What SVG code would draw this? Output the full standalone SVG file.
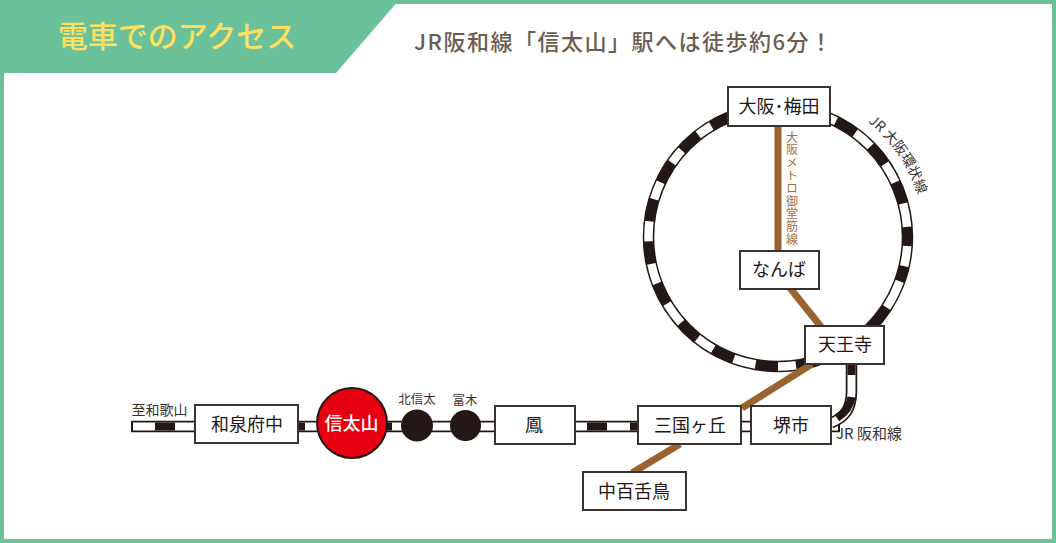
<svg xmlns="http://www.w3.org/2000/svg" width="1056" height="543" viewBox="0 0 1056 543">
<style>
text{font-family:"Noto Sans CJK JP","Noto Sans",sans-serif;text-anchor:middle;fill:#231815}
.box{fill:#fff;stroke:#3a3230;stroke-width:2}
.lbl{font-size:18px}
.sm{font-size:12.500px;fill:#3a3230}
.v{font-size:12px;fill:#a5703a;writing-mode:vertical-rl;text-anchor:start;letter-spacing:0.800px}
.brown{stroke:#9a632f;stroke-width:7;fill:none}
.tb{stroke:#231815;fill:none}
.tw{stroke:#fff;fill:none}
</style>
<defs><path id="arc" d="M867.900 122A146 146 0 0 1 922.600 216.700"/></defs>
<rect x="2" y="2" width="1052" height="539" fill="#fff" stroke="#6bc29a" stroke-width="4"/>
<path d="M0 0H399L336 73H0Z" fill="#6bc29a"/>
<text x="177" y="47" font-size="30" font-weight="500" style="fill:#ffdf5f">電車でのアクセス</text>
<text x="623" y="50" font-size="22" font-weight="500" textLength="418" style="fill:#6b5d4f">JR阪和線「信太山」駅へは徒歩約6分！</text>
<g id="connectors">
<circle cx="778" cy="237" r="129.500" class="tb" stroke-width="11.500"/>
<circle cx="778" cy="237" r="129.500" class="tw" stroke-width="8.500" pathLength="360" transform="rotate(-90 778 237)" stroke-dasharray="26.600 10 9 10 9.400 10 10.500 8.500 9 7 13 14 26 9 8 10 10 10 8.500 10 10.500 10 9 10 9 10 8 10 7 10 7 10 21 0"/>
<path d="M131 426.500H840" class="tb" stroke-width="11.500"/>
<path d="M133 426.500H838" class="tw" stroke-width="8"/>
<path d="M155 426.500H175M298 426.500H305M387 426.500H392M587 426.500H607M630 426.500H640" stroke="#231815" stroke-width="8" fill="none"/>
<path d="M831 423C846 417 851 408 851.500 392V360" class="tb" stroke-width="11.500"/>
<path d="M831 423C846 417 851 408 851.500 392V360" class="tw" stroke-width="8"/>
<path d="M851.500 364V375M851.500 397C850.500 405 846 412 837 418" stroke="#231815" stroke-width="8" fill="none"/>
<path d="M778 126V252" class="brown"/>
<path d="M790 288L822 328" class="brown"/>
<path d="M812 364L742 408" class="brown"/>
<path d="M680 444L632 473" class="brown"/>
</g>
<g id="n-umeda"><rect class="box" x="728" y="87" width="102" height="39"/><text class="lbl" x="779" y="113">大阪･梅田</text></g>
<g id="n-namba"><rect class="box" x="740" y="251" width="79" height="38"/><text class="lbl" x="779" y="276">なんば</text></g>
<g id="n-tennoji"><rect class="box" x="805" y="326" width="79" height="38"/><text class="lbl" x="845" y="351">天王寺</text></g>
<g id="n-sakai"><rect class="box" x="751" y="406" width="80" height="38"/><text class="lbl" x="791" y="432">堺市</text></g>
<g id="n-mikuni"><rect class="box" x="638" y="406" width="103" height="38"/><text class="lbl" x="690" y="432">三国ヶ丘</text></g>
<g id="n-otori"><rect class="box" x="495" y="406" width="80" height="38"/><text class="lbl" x="534" y="432">鳳</text></g>
<g id="n-mozu"><rect class="box" x="583" y="472" width="103" height="38"/><text class="lbl" x="634" y="498">中百舌鳥</text></g>
<g id="n-izumi"><rect class="box" x="195" y="405" width="103" height="38"/><text class="lbl" x="247" y="431">和泉府中</text></g>
<g id="n-shinodayama"><circle cx="352" cy="423" r="35" fill="#e60012" stroke="#231815" stroke-width="2"/><text x="351.500" y="430" font-size="18" font-weight="500" style="fill:#fff">信太山</text></g>
<g id="n-kitashinoda"><circle cx="417" cy="425.500" r="16" fill="#231815"/><text class="sm" x="417" y="404">北信太</text></g>
<g id="n-tomiki"><circle cx="465.500" cy="425.500" r="15.500" fill="#231815"/><text class="sm" x="465" y="405">富木</text></g>
<text class="sm" x="159.500" y="415" style="font-size:14px">至和歌山</text>
<text x="869" y="439" style="font-size:15px;fill:#3a3230">JR 阪和線</text>
<text class="v" x="792" y="131">大阪メトロ御堂筋線</text>
<text style="font-size:14px;fill:#3a3230;text-anchor:start"><textPath href="#arc">JR 大阪環状線</textPath></text>
</svg>
